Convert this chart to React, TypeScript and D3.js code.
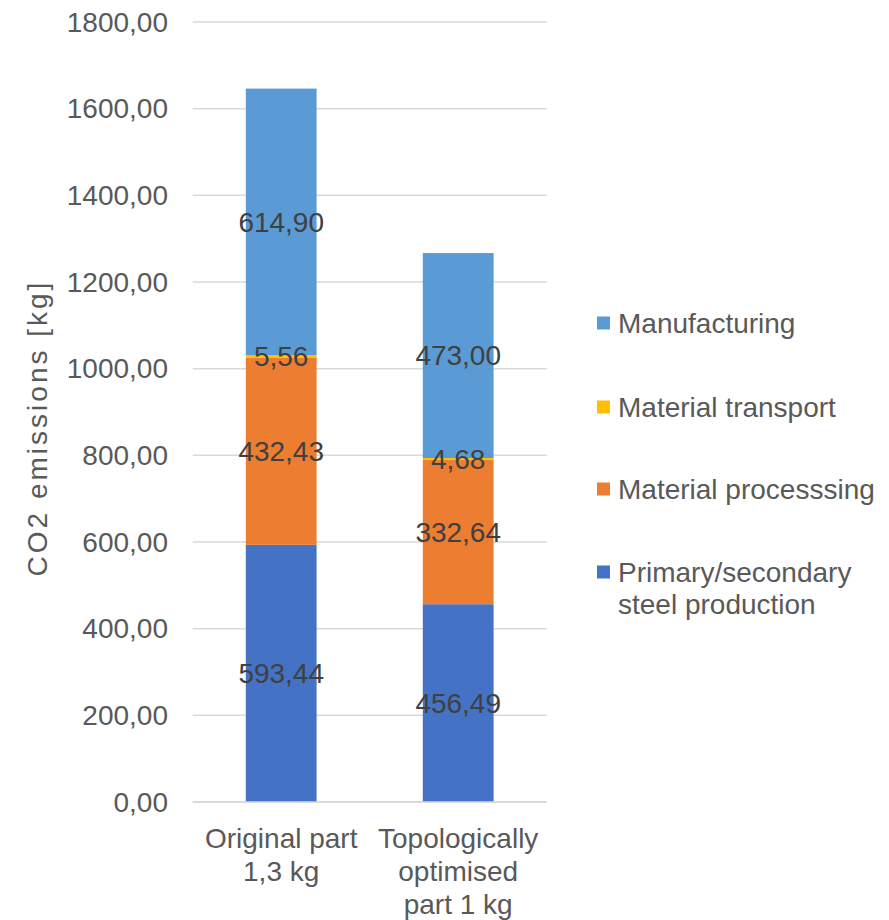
import React from "react";
import * as d3 from "d3";

const categories = [["Original part", "1,3 kg"], ["Topologically", "optimised", "part 1 kg"]];
const categoryKeys = ["orig", "topo"];
const seriesNames = ["Primary/secondary steel production", "Material processsing", "Material transport", "Manufacturing"];
const seriesColors = ["#4472C4", "#ED7D31", "#FFC000", "#5B9BD5"];
const primary = [593.44, 456.49];
const processing = [432.43, 332.64];
const transport = [5.56, 4.68];
const manufacturing = [614.9, 473.0];
const yTicks = [0, 200, 400, 600, 800, 1000, 1200, 1400, 1600, 1800];
const legendLines = [["Manufacturing"], ["Material transport"], ["Material processsing"], ["Primary/secondary", "steel production"]];

const W = 889;
const H = 920;
const fmt = (v: number) => v.toFixed(2).replace(".", ",");

export default function App() {
  const x = d3.scaleBand().domain(categoryKeys).range([192.7, 546.7]).paddingInner(0.6).paddingOuter(0.3);
  const y = d3.scaleLinear().domain([0, 1800]).range([802, 22]);
  const seriesVals = [primary, processing, transport, manufacturing];
  const rows = categoryKeys.map((k, i) => {
    const r: any = { key: k };
    seriesNames.forEach((s, j) => (r[s] = seriesVals[j][i]));
    return r;
  });
  const stacked = d3.stack<any>().keys(seriesNames)(rows);
  const font = "'Liberation Sans', Arial, sans-serif";
  const legendY = [323, 407, 489, 572];

  return (
    <svg width={W} height={H} style={{ position: "absolute", left: 0, top: 0, background: "#fff" }} fontFamily={font}>
      {yTicks.map((t) => (
        <g key={t}>
          <line x1={192.7} x2={546.7} y1={y(t)} y2={y(t)} stroke="#D9D9D9" strokeWidth={1.5} />
          <text x={168} y={y(t)} dy="0.35em" textAnchor="end" fontSize={28} fill="#595959">
            {fmt(t)}
          </text>
        </g>
      ))}
      {stacked.map((layer, j) => (
        <g key={layer.key} fill={seriesColors[j]}>
          {layer.map((d, i) => (
            <rect key={i} x={x(categoryKeys[i])} width={x.bandwidth()} y={y(d[1])} height={y(d[0]) - y(d[1])} />
          ))}
        </g>
      ))}
      {stacked.map((layer, j) => (
        <g key={"l" + layer.key}>
          {layer.map((d, i) => (
            <text
              key={i}
              x={(x(categoryKeys[i]) as number) + x.bandwidth() / 2}
              y={y((d[0] + d[1]) / 2)}
              dy="0.35em"
              textAnchor="middle"
              fontSize={28}
              fill="#404040"
            >
              {fmt(d[1] - d[0])}
            </text>
          ))}
        </g>
      ))}
      <line x1={192.7} x2={546.7} y1={y(0)} y2={y(0)} stroke="#D9D9D9" strokeWidth={1.5} />
      {categories.map((lines, i) => (
        <text key={i} textAnchor="middle" fontSize={28} fill="#595959">
          {lines.map((l, k) => (
            <tspan key={k} x={(x(categoryKeys[i]) as number) + x.bandwidth() / 2} y={848 + k * 33}>
              {l}
            </tspan>
          ))}
        </text>
      ))}
      <text
        transform="translate(47,428) rotate(-90)"
        textAnchor="middle"
        fontSize={28}
        letterSpacing={3}
        fill="#595959"
      >
        CO2 emissions [kg]
      </text>
      {legendLines.map((lines, i) => {
        const color = seriesColors[3 - i];
        return (
          <g key={i}>
            <rect x={597} y={legendY[i] - 6.5} width={13} height={13} fill={color} />
            <text fontSize={28} fill="#595959">
              {lines.map((l, k) => (
                <tspan key={k} x={618} y={legendY[i] + 10 + k * 32}>
                  {l}
                </tspan>
              ))}
            </text>
          </g>
        );
      })}
    </svg>
  );
}
